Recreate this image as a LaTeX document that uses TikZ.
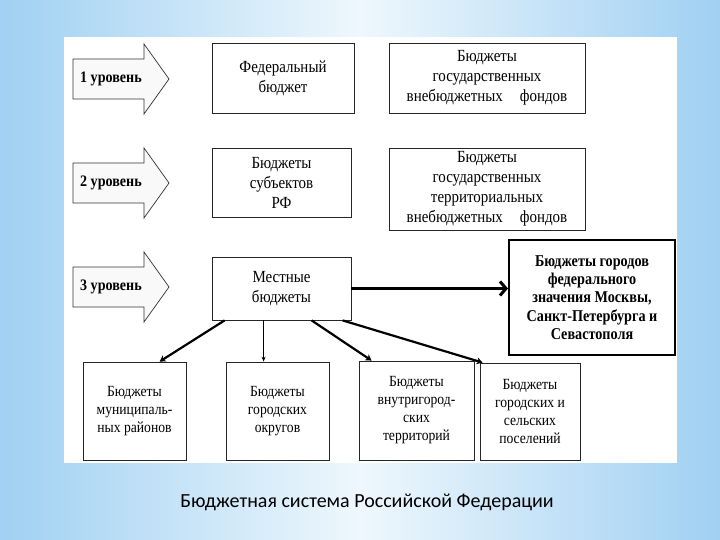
\documentclass[tikz,border=0pt]{standalone}
\usepackage{fontspec}
\setmainfont{Liberation Serif}
\newfontfamily\condfont[FakeStretch=0.88]{Liberation Serif}
\newfontfamily\boldcond[FakeStretch=0.86]{Liberation Serif}
\newfontfamily\capfont{Carlito}
\usetikzlibrary{arrows.meta,calc}
\definecolor{bgblue}{RGB}{160,208,242}
\definecolor{bglight}{RGB}{238,247,253}
\tikzset{
  box/.style={draw=black!85, line width=0.8pt, fill=white, inner sep=0pt, align=center,
              font=\condfont\fontsize{17}{20}\selectfont},
  bigbox/.style={draw=black, line width=2pt, fill=white, inner sep=0pt, align=center,
              font=\boldcond\bfseries\fontsize{16.5}{18.2}\selectfont},
  lowbox/.style={box, font=\condfont\fontsize{15.5}{18}\selectfont},
  lvl/.style={font=\condfont\bfseries\fontsize{16}{18}\selectfont, anchor=west, inner sep=0pt},
  blockarrow/.style={draw=black!80, line width=0.7pt, fill=gray!5},
  conn/.style={line width=2.2pt, -{Stealth[length=6pt,width=7pt]}},
  thinconn/.style={line width=0.9pt, -{Stealth[length=5pt,width=4pt]}},
  mainconn/.style={line width=3pt, -{Straight Barb[length=6pt,width=14pt]}},
}
\begin{document}
\begin{tikzpicture}[x=1pt,y=-1pt]
\useasboundingbox (0,0) rectangle (720,540);
\shade[left color=bgblue, right color=bgblue, middle color=bglight] (0,0) rectangle (720,540);
\fill[white] (64,37) rectangle (677,463);

% level arrows
\foreach \c/\t/\n in {79/1/l1, 183/2/l2, 287/3/l3}{
  \draw[blockarrow] (73,\c-20) -- (144,\c-20) -- (144,\c-35) -- (169,\c) -- (144,\c+35)
        -- (144,\c+20) -- (73,\c+20) -- cycle;
  \node[lvl] (\n) at (80,\c) {\t\ уровень};
}

% boxes
\node[box, minimum width=142pt, minimum height=70pt] (fed) at (283,78) {Федеральный\\бюджет};
\node[box, minimum width=196pt, minimum height=70pt] (fund1) at (487,78)
  {Бюджеты\\государственных\\внебюджетных\quad фондов};
\node[box, minimum width=139pt, minimum height=69pt] (subj) at (281.5,182.5)
  {Бюджеты\\субъектов\\РФ};
\node[box, minimum width=196pt, minimum height=82pt] (fund2) at (487,189)
  {Бюджеты\\государственных\\территориальных\\внебюджетных\quad фондов};
\node[box, minimum width=139pt, minimum height=63pt] (local) at (281.5,288.5)
  {Местные\\бюджеты};
\node[bigbox, minimum width=166pt, minimum height=115pt] (cities) at (592,297.5)
  {Бюджеты городов\\федерального\\значения Москвы,\\Санкт-Петербурга и\\Севастополя};
\node[lowbox, minimum width=103pt, minimum height=98pt] (b1) at (134.5,411)
  {Бюджеты\\муниципаль-\\ных районов};
\node[lowbox, minimum width=103pt, minimum height=98pt] (b2) at (277.5,411)
  {Бюджеты\\городских\\округов};
\node[lowbox, minimum width=115pt, minimum height=99pt] (b3) at (416.5,410.5)
  {Бюджеты\\внутригород-\\ских\\территорий};
\node[lowbox, minimum width=100pt, minimum height=97pt] (b4) at (530,411.5)
  {Бюджеты\\городских и\\сельских\\поселений};

% connectors
\draw[mainconn] (local.east) -- (local.east -| cities.west);
\draw[conn] ([xshift=13pt]local.south west) -- ([xshift=77pt]b1.north west);
\draw[thinconn] ([xshift=52pt]local.south west) -- ([xshift=52pt]local.south west |- b2.north);
\draw[conn] ([xshift=100pt]local.south west) -- ([xshift=13pt]b3.north west);
\draw[conn] ([xshift=131pt]local.south west) -- ([xshift=3pt]b4.north west);

% caption
\node[font=\capfont\fontsize{20}{22}\selectfont] (cap) at (367,502)
  {Бюджетная система Российской Федерации};
\end{tikzpicture}
\end{document}
